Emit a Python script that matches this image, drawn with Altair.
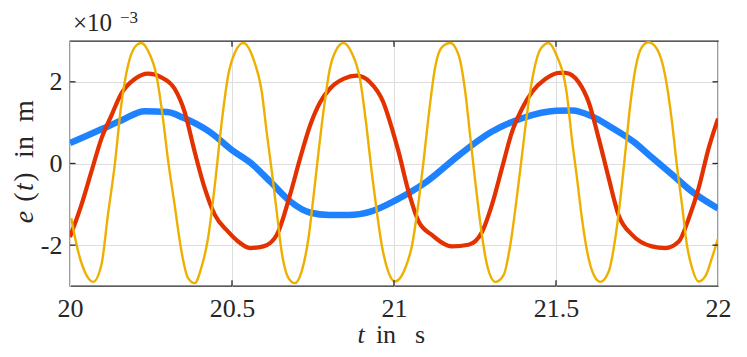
import altair as alt
import pandas as pd

# ---- data (values in units of 1e-3 m) ----
blue_t = [20.00, 20.10, 20.16, 20.23, 20.30, 20.35, 20.43, 20.50, 20.56, 20.62, 20.68,
          20.74, 20.80, 20.86, 20.93, 21.00, 21.10, 21.20, 21.30, 21.40, 21.50, 21.55,
          21.61, 21.67, 21.74, 21.80, 21.86, 21.92, 22.00]
blue_v = [0.50, 0.85, 1.06, 1.28, 1.26, 1.12, 0.78, 0.33, 0.00, -0.46, -0.93,
          -1.20, -1.26, -1.26, -1.17, -0.92, -0.45, 0.20, 0.77, 1.12, 1.29, 1.30,
          1.16, 0.89, 0.53, 0.12, -0.28, -0.69, -1.10]

red_t = [20.000, 20.035, 20.066, 20.097, 20.128, 20.158, 20.200, 20.241, 20.282, 20.323,
         20.354, 20.385, 20.416, 20.447, 20.488, 20.519, 20.556, 20.597, 20.638, 20.679,
         20.710, 20.741, 20.772, 20.802, 20.844, 20.885, 20.926, 20.967, 20.994, 21.014,
         21.045, 21.076, 21.117, 21.179, 21.230, 21.272, 21.302, 21.333, 21.364, 21.395,
         21.426, 21.467, 21.510, 21.529, 21.570, 21.601, 21.632, 21.663, 21.693, 21.735,
         21.796, 21.837, 21.879, 21.910, 21.940, 21.971, 22.000]
red_v = [-1.80, -1.02, -0.20, 0.61, 1.18, 1.71, 2.07, 2.20, 2.11, 1.83,
         1.26, 0.28, -0.61, -1.26, -1.67, -1.91, -2.07, -2.03, -1.75, -0.77,
         0.12, 0.93, 1.50, 1.83, 2.07, 2.15, 1.99, 1.50, 0.85, 0.29,
         -0.69, -1.42, -1.75, -2.03, -1.99, -1.67, -1.02, -0.12, 0.77, 1.34,
         1.75, 2.07, 2.22, 2.22, 1.99, 1.50, 0.61, -0.37, -1.26, -1.75,
         -2.03, -2.07, -1.91, -1.34, -0.61, 0.37, 1.10]

yel_t = [20.004, 20.025, 20.045, 20.071, 20.097, 20.117, 20.138, 20.158, 20.179, 20.200,
         20.220, 20.241, 20.267, 20.287, 20.302, 20.323, 20.344, 20.364, 20.385, 20.405,
         20.426, 20.447, 20.467, 20.488, 20.508, 20.535, 20.566, 20.592, 20.607, 20.623,
         20.638, 20.653, 20.674, 20.694, 20.715, 20.736, 20.751, 20.767, 20.782, 20.802,
         20.823, 20.844, 20.869, 20.895, 20.916, 20.931, 20.947, 20.962, 20.982, 21.003,
         21.035, 21.056, 21.076, 21.091, 21.107, 21.128, 21.148, 21.174, 21.200, 21.220,
         21.236, 21.251, 21.267, 21.287, 21.313, 21.339, 21.359, 21.380, 21.395, 21.410,
         21.431, 21.452, 21.477, 21.500, 21.534, 21.549, 21.565, 21.580, 21.596, 21.616,
         21.637, 21.663, 21.683, 21.699, 21.714, 21.729, 21.745, 21.765, 21.786, 21.812,
         21.837, 21.858, 21.873, 21.889, 21.904, 21.920, 21.940, 21.961, 21.981, 22.000]
yel_v = [-1.34, -2.15, -2.64, -2.90, -2.48, -1.26, -0.04, 1.42, 2.40, 2.85,
         2.95, 2.76, 2.15, 1.10, 0.12, -1.02, -2.15, -2.80, -2.93, -2.56,
         -1.83, -0.53, 0.93, 2.15, 2.70, 2.95, 2.56, 1.75, 0.77, -0.20,
         -1.18, -2.15, -2.80, -2.93, -2.64, -1.83, -0.85, 0.28, 1.26, 2.32,
         2.80, 2.95, 2.72, 2.07, 0.85, -0.20, -1.18, -1.99, -2.64, -2.89,
         -2.56, -1.99, -0.93, 0.04, 1.18, 2.40, 2.85, 2.95, 2.64, 1.75,
         0.61, -0.45, -1.50, -2.48, -2.90, -2.72, -1.99, -0.77, 0.20, 1.18,
         2.24, 2.80, 2.95, 2.68, 1.67, 0.61, -0.37, -1.34, -2.15, -2.72,
         -2.90, -2.64, -1.83, -0.85, 0.28, 1.42, 2.32, 2.85, 2.97, 2.80,
         2.15, 1.02, -0.04, -1.02, -1.99, -2.56, -2.89, -2.76, -2.32, -1.83]

x_ticks = [20, 20.5, 21, 21.5, 22]
y_ticks = [-2, 0, 2]

FONT = "Liberation Serif"
TXT = "#262626"
W, H = 648, 245

xs = alt.Scale(domain=[20, 22], nice=False, zero=False)
ys = alt.Scale(domain=[-3, 3], nice=False, zero=False)

xax = alt.Axis(values=x_ticks, labelExpr="'' + datum.value", grid=True,
               gridColor="#dedede", gridWidth=1, ticks=False, domain=False,
               labelFont=FONT, labelFontSize=26, labelColor=TXT, labelPadding=9,
               labelFlush=False, labelOverlap=False)
yax = alt.Axis(values=y_ticks, labelExpr="'' + datum.value", grid=True,
               gridColor="#dedede", gridWidth=1, ticks=False, domain=False,
               labelFont=FONT, labelFontSize=26, labelColor=TXT, labelPadding=8,
               labelFlush=False, labelOverlap=False)


def series(t, v, color, width):
    df = pd.DataFrame({"t": t, "v": v})
    return alt.Chart(df).mark_line(color=color, strokeWidth=width, clip=True,
                                   interpolate="monotone").encode(
        x=alt.X("t:Q", scale=xs, axis=xax, title=None),
        y=alt.Y("v:Q", scale=ys, axis=yax, title=None),
    )


blue = series(blue_t, blue_v, "#1E82FF", 6.5)
red = series(red_t, red_v, "#E33200", 4.2)
yel = series(yel_t, yel_v, "#EEB000", 2.4)

# inward ticks on all four sides
xt = pd.DataFrame({"t": x_ticks[1:-1]})
yt = pd.DataFrame({"v": y_ticks})
tick_style = dict(color=TXT, strokeWidth=1.3)
tb = alt.Chart(xt).mark_rule(**tick_style).encode(
    x=alt.X("t:Q", scale=xs), y=alt.datum(-3), y2=alt.datum(-2.86))
tt = alt.Chart(xt).mark_rule(**tick_style).encode(
    x=alt.X("t:Q", scale=xs), y=alt.datum(3), y2=alt.datum(2.86))
tl = alt.Chart(yt).mark_rule(**tick_style).encode(
    y=alt.Y("v:Q", scale=ys), x=alt.datum(20), x2=alt.datum(20.017))
tr = alt.Chart(yt).mark_rule(**tick_style).encode(
    y=alt.Y("v:Q", scale=ys), x=alt.datum(22), x2=alt.datum(21.983))


def label(text, x, y, size=26, style="normal", angle=0, align="center"):
    return alt.Chart(pd.DataFrame({"s": [text]})).mark_text(
        font=FONT, fontSize=size, fontStyle=style, color=TXT, angle=angle,
        align=align, baseline="alphabetic").encode(
        x=alt.value(x), y=alt.value(y), text="s:N")


texts = [
    # x title: t in s
    label("t", 291, 302, 26, "italic"),
    label("in", 316, 302, 26),
    label("s", 350, 302, 26),
    # y title: e(t) in m (rotated)
    label("e", -37, 176, 28, "italic", 270),
    label("(", -37, 156, 28, "normal", 270),
    label("t", -37, 146, 28, "italic", 270),
    label(")", -37, 136, 28, "normal", 270),
    label("in", -37, 106, 28, "normal", 270),
    label("m", -37, 70, 28, "normal", 270),
    # exponent
    label("×10", 3, -10, 25, "normal", 0, "left"),
    label("−3", 50, -18, 17, "normal", 0, "left"),
]

chart = alt.layer(blue, red, yel, tb, tt, tl, tr, *texts).properties(
    width=W, height=H,
    autosize=alt.AutoSizeParams(type="none"),
    padding={"left": 62, "top": 33, "right": 20, "bottom": 63},
    background="white",
).configure_view(stroke=TXT, strokeWidth=1.3)

chart.save("out.html", embed_options={"renderer": "svg", "actions": False})
